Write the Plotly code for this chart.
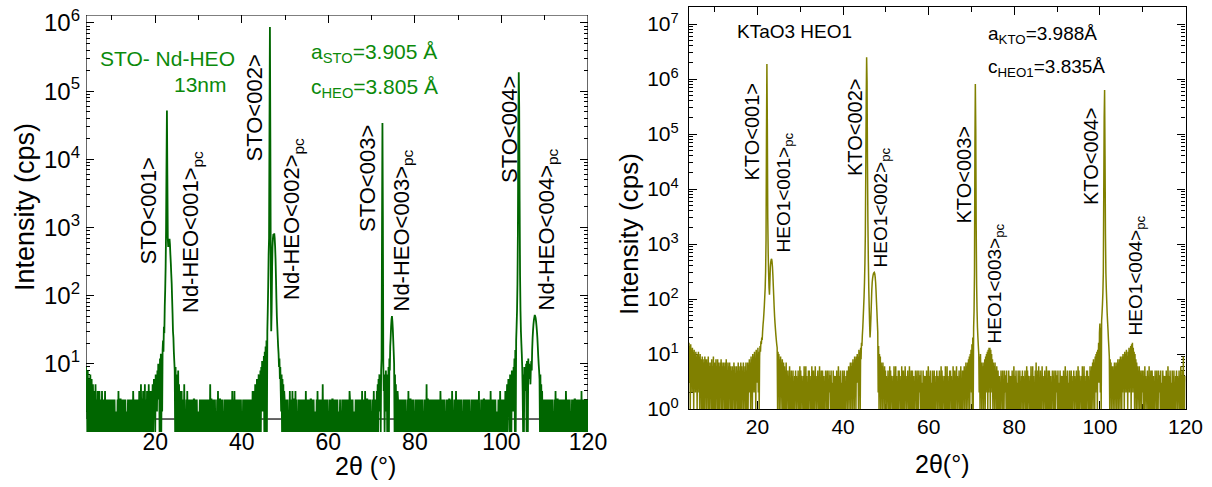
import math
import plotly.graph_objects as go

W, H = 1212, 487
FONT = "Arial, 'Liberation Sans', Helvetica, sans-serif"
GREEN_LINE = "#006600"
GREEN_TEXT = "#0b8a0b"
OLIVE = "#808000"

# Both scans: 2theta from 4.0 to 120.0 deg in 0.1 deg steps
X_START, STEP = 4.0, 0.1

# ---- STO / Nd-HEO scan -------------------------------------------------
# Background counts, one digit per step, ten steps per group (rows of 10 deg).
# Windows around the reflections are replaced by the peak profiles below.
STO_BG_ROWS = [
    "1111111111 1111111111 1111111111 1413121413 2131412131 1312131213 2131213121 1213141213 3121312131 1312121312",
    "1312131214 2131312131 1314121513 3141215131 1412151314 1111111111 1111111111 1111111111 1111111111 1111111111",
    "1111111111 1111111111 1412131512 2131412131 1312131213 3121313121 1213131213 2131213131 1312131513 3121312131",
    "1213141213 3121313121 1312131213 2131213141 1314121312 3121312131 1213131213 2131312131 1312141314 1111111111",
    "1111111111 1111111111 1111111111 1111111111 1111111111 1111111111 2131213121 1413121413 3121413121 1312131213",
    "2131213141 1312131213 3121313121 1213141213 1312131513 2131312131 1213131213 3121312131 1312121312 2131213131",
    "1312131214 3121313121 1213131213 2131213141 1312141213 3121312131 1213141213 1111111111 1111111111 1111111111",
    "1111111111 1111111111 1312131213 2131312131 1213141213 3121313121 1312131213 2131213131 1213131513 3121312131",
    "3121312131 1312131214 2131312131 1213131213 3121314121 1312141213 2131213131 1213121312 3121313121 1312131213",
    "2131213141 1213131213 3121312131 1312141213 2131313121 1213121413 1312131214 1111111111 1111111111 1111111111",
    "1111111111 1111111111 1111111111 1111111111 1111111111 1111111111 1312131213 2131312131 1213141213 3121312131",
    "1312131214 2131213131 1213131213 3121312131 1312141213 2131312131 2",
]

STO_EDGE = [9, 2, 7, 1, 8, 3, 6, 1, 5, 2,
            7, 1, 4, 6, 1, 3, 5, 2, 1, 4,
            2, 1, 5, 1, 3, 2, 1, 4, 1, 2]                       # from 4.0

STO_001 = [3, 1, 4, 2, 5, 1, 3, 6, 2, 4,
           1, 7, 3, 5, 2, 8, 4, 10, 3, 9,
           1, 12, 2, 14, 1, 11, 2, 16, 22, 15,
           35, 28, 70, 120, 260, 900, 8000, 52000, 6000, 700,
           520, 640, 600, 680, 560, 400, 300, 210, 150, 90,
           55, 30, 24, 15, 11, 8, 1, 9, 2, 7,
           1, 6, 3, 8, 1, 5, 2, 4, 1, 3,
           2]                                                   # from 19.0

STO_002 = [2, 5, 1, 4, 2, 6, 1, 5, 3, 7,
           1, 6, 2, 8, 1, 9, 3, 11, 2, 10,
           4, 13, 1, 15, 5, 18, 1, 22, 1, 30,
           60, 140, 400, 700, 30000, 870000, 20000, 200, 30, 60,
           250, 520, 700, 800, 760, 820, 700, 520, 340, 180,
           90, 50, 35, 25, 18, 14, 9, 12, 6, 9,
           4, 2, 7, 1, 6, 2, 5, 1, 4, 3,
           1]                                                   # from 43.0

STO_003 = [2, 1, 4, 2, 5, 1, 6, 3, 7, 2,
           6, 1, 8, 12, 900, 34000, 1500, 10, 4, 7,
           1, 6, 3, 8, 2, 7, 1, 6, 1, 9,
           1, 12, 8, 18, 24, 35, 45, 50, 42, 32,
           22, 15, 10, 1, 7, 2, 5, 1, 3, 1,
           4]                                                   # from 71.0

STO_004 = [1, 4, 2, 5, 1, 3, 6, 2, 5, 1,
           7, 3, 6, 1, 8, 4, 7, 2, 9, 5,
           12, 1, 16, 1, 22, 35, 60, 150, 800, 30000,
           190000, 60000, 2500, 200, 60, 30, 20, 14, 9, 4,
           1, 7, 1, 9, 5, 8, 4, 10, 1, 11,
           9, 1, 12, 8, 10, 6, 8, 5, 9, 11,
           8, 16, 24, 31, 38, 44, 48, 52, 50, 47,
           42, 36, 30, 24, 18, 13, 10, 8, 6, 1,
           7, 1, 5, 2, 4, 1, 3, 2, 1, 3,
           2]                                                   # from 101.0

STO_PEAKS = [(4.0, STO_EDGE), (19.0, STO_001), (43.0, STO_002),
             (71.0, STO_003), (101.0, STO_004)]

# ---- KTaO3 / HEO1 scan -------------------------------------------------
KTO_BG_ROWS = [
    "1111111111 1111111111 1111111111 1918171928 1817291716 2718161917 1718261817 1617281716 2716171815 1716271615",
    "1615271614 2615171516 1716251714 2617151716 1111111111 1111111111 1111111111 1111111111 1111111111 1111111111",
    "1111111111 1111111111 1716151714 2514161315 1415131425 1413251416 1514231416 1316141215 1524131615 1514162413",
    "2514161315 3152141315 2415131524 4151321514 2143151416 3141521315 1415131425 1111111111 1111111111 1111111111",
    "1111111111 1111111111 1111111111 1111111111 1111111111 1111111111 1413251416 1514231416 1316141215 1524131615",
    "1514162413 2514161315 3152141315 2415131524 4151321514 2143151416 3141521315 1415131425 1413251416 1514231416",
    "1316141215 1524131615 1514162413 2514161315 1111111111 1111111111 1111111111 1111111111 1111111111 1111111111",
    "1111111111 1111111111 3152141315 2415131524 4151321514 2143151416 3141521315 1415131425 1413251416 1514231416",
    "1316141215 1714151613 1514162413 2514161315 3152141315 2415131524 4151321514 2143151416 3141521315 1415131425",
    "1413251416 1514231416 1316141215 1524131615 1111111111 1111111111 1111111111 1111111111 1111111111 1111111111",
    "1111111111 1111111111 1111111111 1111111111 1111111111 1111111111 1514162413 2514161315 3152141315 2415131524",
    "4151321514 2143151416 3141521315 1415131425 1413251416 1415191413 4",
]

KTO_EDGE = [16, 3, 14, 1, 15, 6, 12, 2, 13, 4,
            11, 1, 12, 5, 10, 2, 11, 3, 9, 1,
            10, 4, 11, 2, 9, 1, 10, 3, 8, 1]                    # from 4.0

KTO_001 = [4, 8, 2, 7, 1, 9, 3, 8, 1, 10,
           4, 9, 2, 11, 5, 8, 1, 12, 6, 10,
           3, 13, 2, 11, 1, 9, 14, 11, 17, 15,
           20, 18, 26, 34, 42, 55, 75, 110, 160, 320,
           1200, 90000, 1870000, 150000, 3000, 700, 300, 160, 120, 210,
           380, 470, 520, 540, 480, 380, 270, 170, 110, 70,
           48, 36, 28, 22, 18, 15, 13, 1, 11, 2,
           10, 1, 8, 3, 9, 1, 7, 4, 8, 1,
           6]                                                   # from 18.0

KTO_002 = [1, 5, 2, 6, 1, 5, 3, 7, 1, 6,
           2, 7, 1, 8, 3, 7, 1, 9, 4, 8,
           1, 9, 3, 10, 5, 9, 1, 12, 6, 11,
           1, 13, 8, 16, 14, 22, 30, 45, 70, 110,
           200, 450, 1500, 20000, 400000, 2500000, 900000, 30000, 2500, 500,
           160, 70, 35, 20, 28, 45, 80, 140, 200, 240,
           270, 290, 300, 305, 290, 250, 200, 140, 90, 60,
           38, 25, 2, 14, 1, 10, 2, 9, 1, 7,
           2, 6, 1, 7, 3, 5, 1, 6, 2, 5,
           1]                                                   # from 41.0

KTO_003 = [1, 5, 2, 6, 1, 5, 3, 7, 1, 6,
           2, 7, 1, 8, 3, 9, 1, 10, 5, 12,
           2, 15, 1, 20, 1, 30, 60, 300, 60000, 810000,
           120000, 2000, 180, 60, 30, 20, 14, 10, 2, 9,
           1, 10, 3, 7, 1, 6, 2, 7, 1, 6,
           3, 8, 1, 9, 4, 10, 2, 11, 1, 12,
           2, 13, 3, 13, 1, 12, 4, 10, 2, 8,
           1, 7, 3, 6, 1, 7, 2, 5, 1, 6,
           3]                                                   # from 68.0

KTO_004 = [1, 6, 2, 7, 1, 8, 3, 7, 1, 9,
           2, 10, 4, 11, 1, 12, 6, 16, 3, 24,
           36, 2, 30, 1, 40, 55, 80, 130, 300, 8000,
           200000, 630000, 40000, 1500, 300, 150, 90, 55, 38, 27,
           18, 13, 9, 1, 8, 2, 7, 1, 6, 2,
           6, 1, 5, 3, 7, 1, 6, 2, 7, 1,
           6, 3, 8, 1, 7, 2, 8, 1, 9, 3,
           8, 1, 9, 2, 10, 4, 9, 1, 11, 3,
           10, 2, 12, 5, 9, 1, 11, 3, 13, 2,
           12, 6, 14, 1, 15, 4, 16, 2, 13, 5,
           11, 1, 10, 3, 8, 1, 7, 2, 6, 1,
           5, 2, 6, 1, 5, 3, 4, 1, 5, 2,
           4]                                                   # from 98.0

KTO_PEAKS = [(4.0, KTO_EDGE), (18.0, KTO_001), (41.0, KTO_002),
             (68.0, KTO_003), (98.0, KTO_004)]

STO_Y_TICKS = [1e1, 1e2, 1e3, 1e4, 1e5, 1e6]
KTO_Y_TICKS = [1e0, 1e1, 1e2, 1e3, 1e4, 1e5, 1e6, 1e7]


def counts_from_rows(rows):
    vals = []
    for n, row in enumerate(rows):
        digits = row.replace(" ", "")
        if n < len(rows) - 1:
            digits = digits[:100].ljust(100, "1")
        vals.extend(float(c) for c in digits)
    return vals


def build_scan(rows, peaks):
    y = counts_from_rows(rows)
    x = [round(X_START + i * STEP, 2) for i in range(len(y))]
    for start, values in peaks:
        i0 = int(round((start - X_START) / STEP))
        y[i0:i0 + len(values)] = [float(v) for v in values]
    return x, y


def lifted_runs(x, y, level, min_len=4):
    """Stretches of the scan that stay above `level` (the floor shows there)."""
    runs, start = [], None
    for i, v in enumerate(y + [0.0]):
        if v > level:
            if start is None:
                start = i
        else:
            if start is not None and i - start >= min_len:
                runs.append((x[start], x[i - 1]))
            start = None
    return runs


def power_labels(vals):
    return ["10<sup>%d</sup>" % round(math.log10(v)) for v in vals]


x_sto, y_sto = build_scan(STO_BG_ROWS, STO_PEAKS)
x_kto, y_kto = build_scan(KTO_BG_ROWS, KTO_PEAKS)

fig = go.Figure()
fig.add_trace(go.Scatter(x=x_sto, y=y_sto, mode="lines", xaxis="x", yaxis="y",
                         line=dict(color=GREEN_LINE, width=1.8, simplify=False),
                         hoverinfo="skip"))
fig.add_trace(go.Scatter(x=x_kto, y=y_kto, mode="lines", xaxis="x2", yaxis="y2",
                         line=dict(color=OLIVE, width=1.5, simplify=False),
                         hoverinfo="skip"))

STO_YTOP = 6.117
KTO_YTOP = 7.31
STO_XAXIS_AT = 1.55   # bottom frame line of the left panel (cps)

xcommon = dict(range=[4, 120], tickmode="linear", tick0=0, dtick=20,
               ticks="inside", ticklen=8, tickwidth=1.2, tickcolor="black",
               mirror="ticks", showgrid=False, zeroline=False, layer="below traces",
               automargin=False,
               minor=dict(ticks="inside", ticklen=5, tickwidth=1.2, tickcolor="black",
                          tick0=0, dtick=10, showgrid=False))
ycommon = dict(type="log", tickmode="array", ticks="inside", ticklen=8, tickwidth=1.2,
               tickcolor="black", mirror="ticks", showgrid=False, zeroline=False,
               layer="below traces", automargin=False,
               minor=dict(ticks="inside", ticklen=4, tickwidth=1, tickcolor="black",
                          dtick="D1", showgrid=False))

fig.update_layout(
    width=W, height=H, autosize=False,
    margin=dict(l=0, r=0, t=0, b=0, pad=0, autoexpand=False),
    paper_bgcolor="white", plot_bgcolor="white", showlegend=False,
    font=dict(family=FONT, color="black"),
    xaxis=dict(domain=[86 / W, 588 / W], anchor="y", showline=False,
               tickfont=dict(family=FONT, size=23), ticklabelstandoff=-6, **xcommon),
    yaxis=dict(domain=[(H - 432) / H, (H - 15) / H], anchor="x", range=[0, STO_YTOP],
               showline=False, tickvals=STO_Y_TICKS, ticktext=power_labels(STO_Y_TICKS),
               tickfont=dict(family=FONT, size=24), ticklabelstandoff=5, **ycommon),
    xaxis2=dict(domain=[689 / W, 1185.5 / W], anchor="y2", showline=True, linecolor="black",
                linewidth=1.2, tickfont=dict(family=FONT, size=21), ticklabelstandoff=-1,
                **xcommon),
    yaxis2=dict(domain=[(H - 409) / H, (H - 7) / H], anchor="x2", range=[0, KTO_YTOP],
                showline=True, linecolor="black", linewidth=1.2,
                tickvals=KTO_Y_TICKS, ticktext=power_labels(KTO_Y_TICKS),
                tickfont=dict(family=FONT, size=21), ticklabelstandoff=5, **ycommon),
)

# Left panel frame: left, top and right edges ...
frame = dict(color="black", width=1.2)
top = 10 ** STO_YTOP
for x0, y0, x1, y1 in [(4, STO_XAXIS_AT, 4, top), (4, top, 120, top),
                       (120, STO_XAXIS_AT, 120, top)]:
    fig.add_shape(type="line", xref="x", yref="y", x0=x0, y0=y0, x1=x1, y1=y1,
                  line=frame, layer="below")
# ... and the bottom edge, which the noise floor hides except under the peaks
for xa, xb in lifted_runs(x_sto, y_sto, STO_XAXIS_AT):
    fig.add_shape(type="line", xref="x", yref="y", x0=xa, x1=xb,
                  y0=STO_XAXIS_AT, y1=STO_XAXIS_AT, line=frame, layer="below")


def text(s, xp, yp, size, color="black", angle=0, xanchor="center"):
    fig.add_annotation(text=s, x=xp / W, y=1 - yp / H, xref="paper", yref="paper",
                       showarrow=False, textangle=angle, xanchor=xanchor, yanchor="middle",
                       font=dict(family=FONT, size=size, color=color))


# axis titles
text("Intensity (cps)", 25, 207, 27, angle=-90)
text("Intensity (cps)", 629, 234, 26, angle=-90)
text("2θ (°)", 365, 466, 25)
text("2θ(°)", 942, 464, 25)

# reflection labels, STO / Nd-HEO
text("STO&lt;001&gt;", 147.5, 211, 22, angle=-90)
text("Nd-HEO&lt;001&gt;<sub>pc</sub>", 192, 232, 22, angle=-90)
text("STO&lt;002&gt;", 254.5, 108, 22, angle=-90)
text("Nd-HEO&lt;002&gt;<sub>pc</sub>", 293, 219, 22, angle=-90)
text("STO&lt;003&gt;", 367.5, 178.5, 22, angle=-90)
text("Nd-HEO&lt;003&gt;<sub>pc</sub>", 402.5, 231, 22, angle=-90)
text("STO&lt;004&gt;", 509, 130, 22, angle=-90)
text("Nd-HEO&lt;004&gt;<sub>pc</sub>", 547, 229.5, 22, angle=-90)

text("STO- Nd-HEO", 167.5, 59, 21, color=GREEN_TEXT)
text("13nm", 200, 84.5, 21, color=GREEN_TEXT)
text("a<sub>STO</sub>=3.905 Å", 309, 53, 21, color=GREEN_TEXT, xanchor="left")
text("c<sub>HEO</sub>=3.805 Å", 309, 88, 21, color=GREEN_TEXT, xanchor="left")

# reflection labels, KTO / HEO1
text("KTO&lt;001&gt;", 751.5, 132, 20, angle=-90)
text("HEO1&lt;001&gt;<sub>pc</sub>", 785, 192.5, 19, angle=-90)
text("KTO&lt;002&gt;", 855, 128, 20, angle=-90)
text("HEO1&lt;002&gt;<sub>pc</sub>", 881, 207.5, 19, angle=-90)
text("KTO&lt;003&gt;", 963.5, 175, 20, angle=-90)
text("HEO1&lt;003&gt;<sub>pc</sub>", 995, 283.5, 19, angle=-90)
text("KTO&lt;004&gt;", 1091, 157, 20, angle=-90)
text("HEO1&lt;004&gt;<sub>pc</sub>", 1136, 275.5, 19, angle=-90)

text("KTaO3 HEO1", 794.5, 31, 19)
text("a<sub>KTO</sub>=3.988Å", 986, 35, 19, xanchor="left")
text("c<sub>HEO1</sub>=3.835Å", 986, 68, 19, xanchor="left")

fig.write_html(
    "out.html",
    config={"displayModeBar": False, "responsive": False},
    post_script=("document.documentElement.style.margin='0';"
                 "document.documentElement.style.overflow='hidden';"
                 "document.body.style.margin='0';"
                 "document.body.style.overflow='hidden';"),
)
